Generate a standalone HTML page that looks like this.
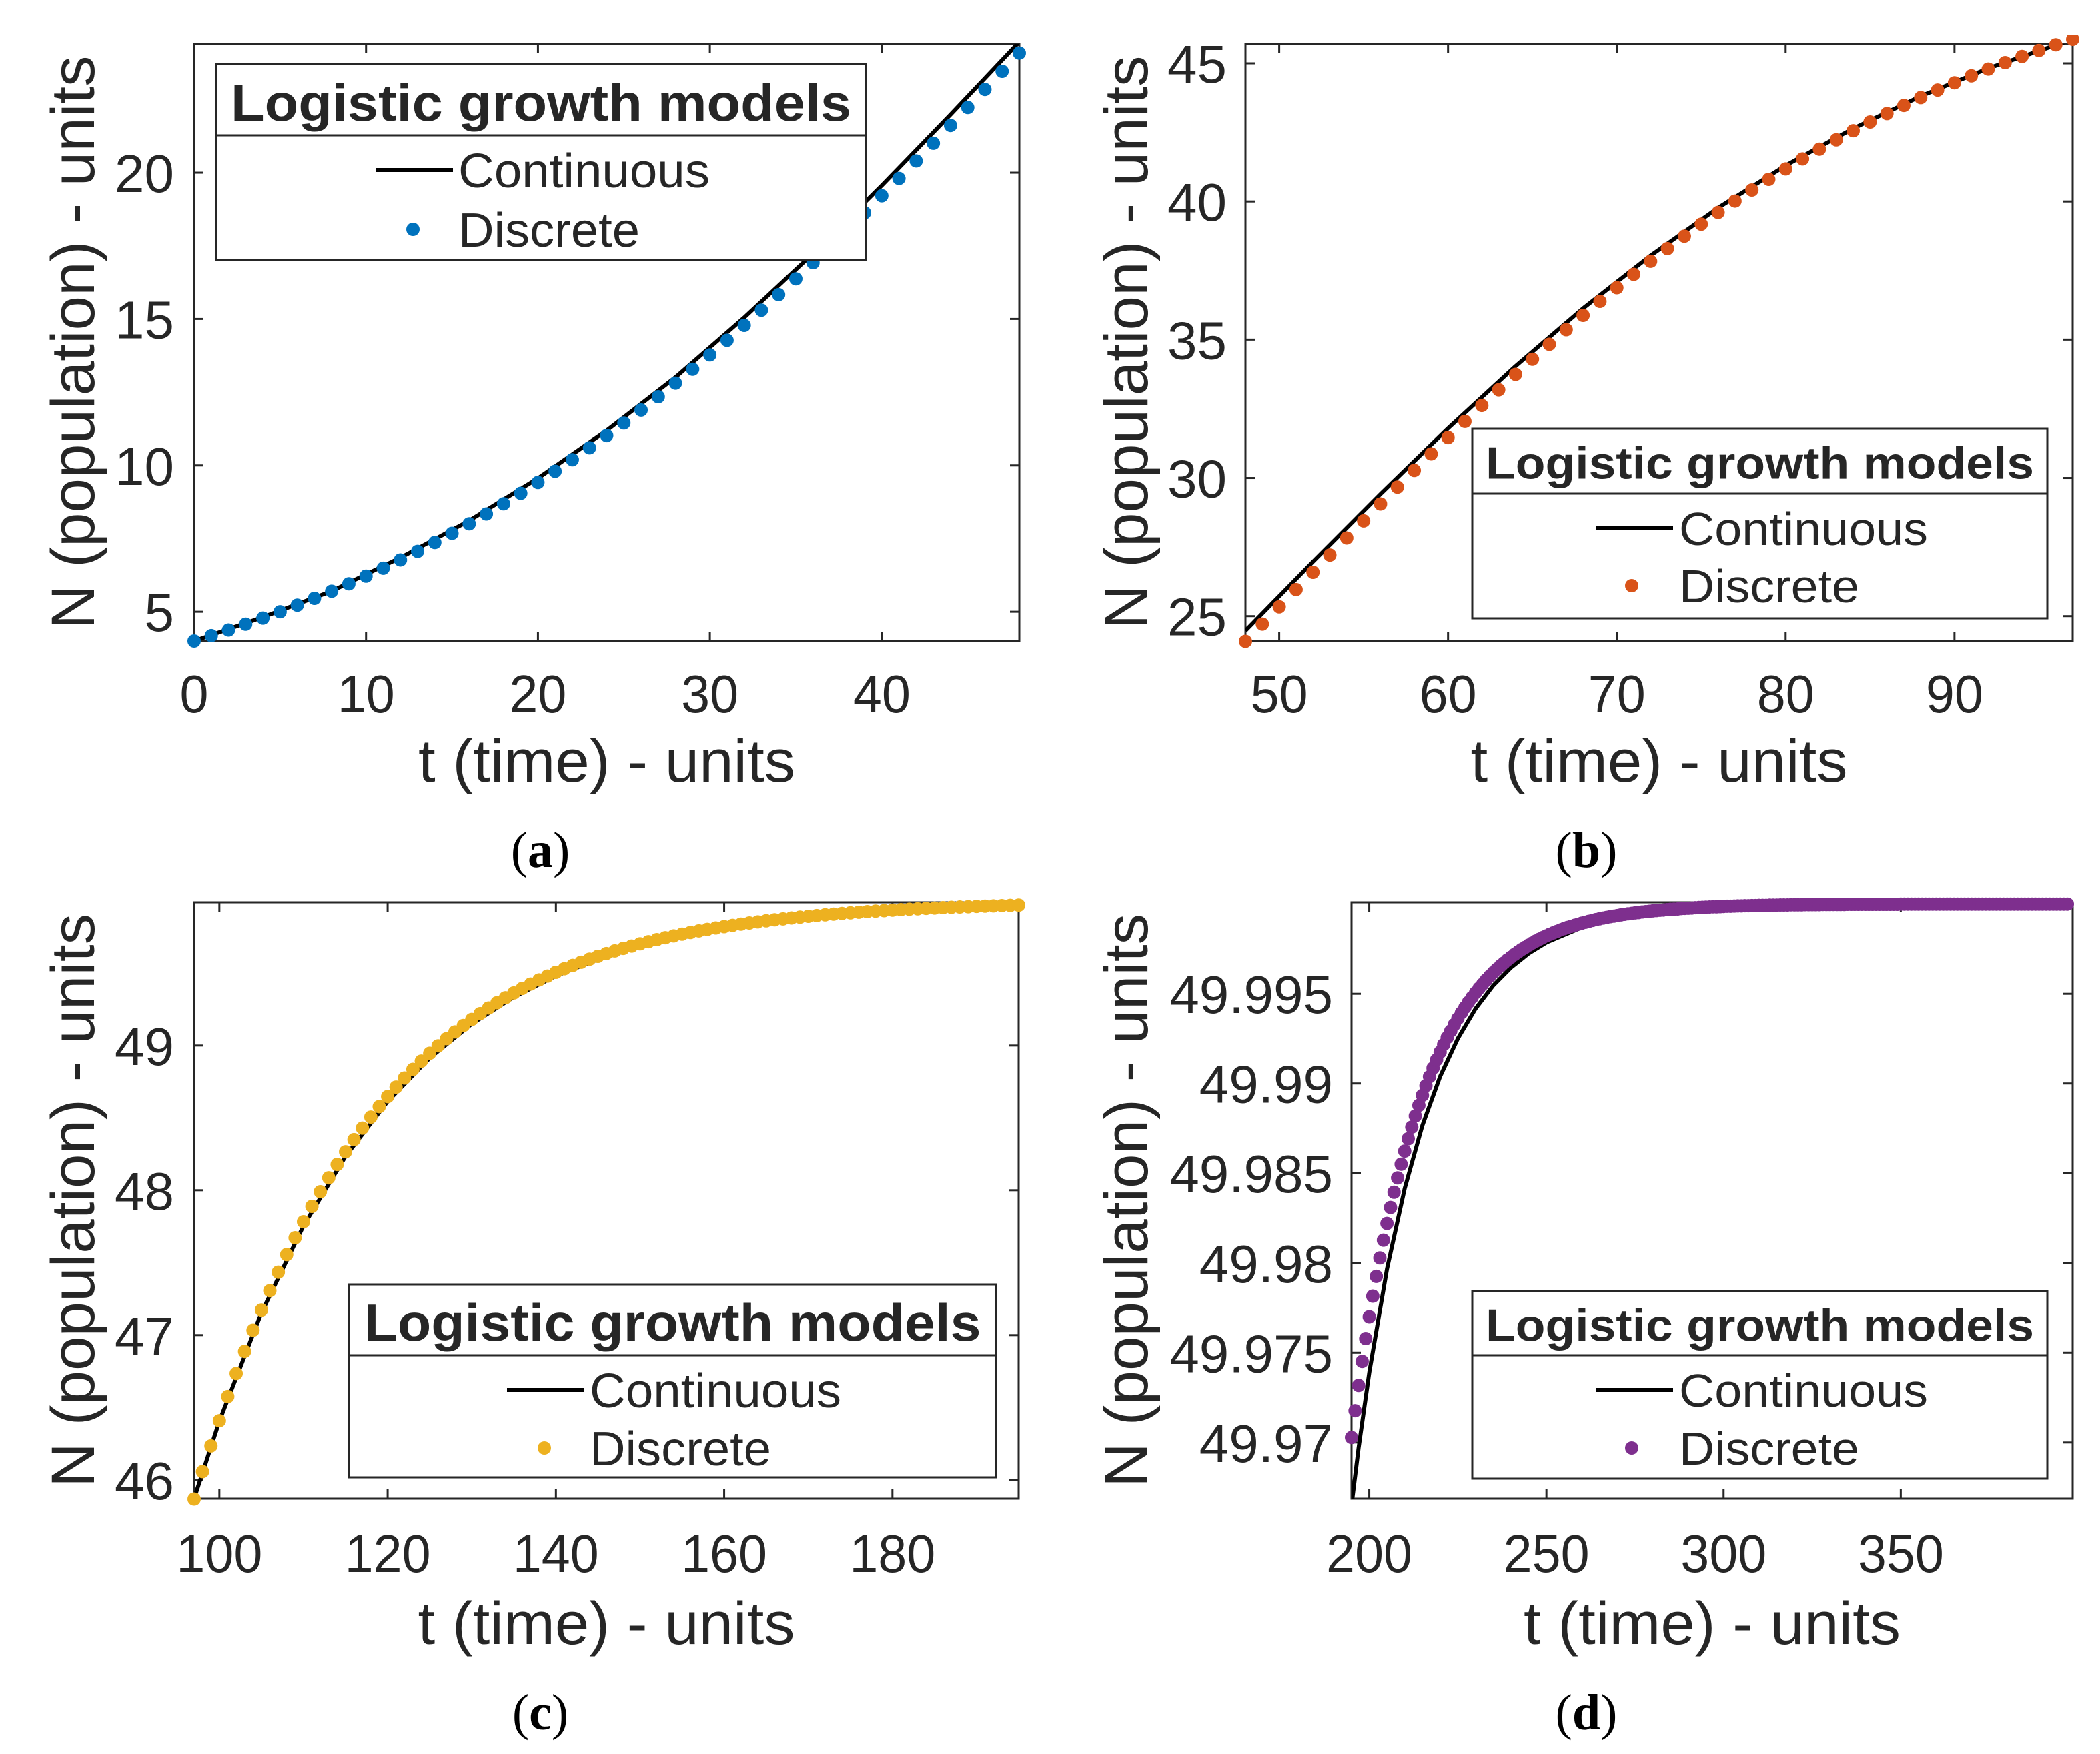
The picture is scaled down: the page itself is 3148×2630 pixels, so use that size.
<!DOCTYPE html>
<html><head><meta charset="utf-8"><style>
html,body{margin:0;padding:0;background:#fff;}
svg{display:block;}
text{font-family:"Liberation Sans",sans-serif;fill:#262626;}
</style></head><body>
<svg id="fig" width="3148" height="2630" viewBox="0 0 3148 2630" xmlns="http://www.w3.org/2000/svg"></svg>
<script>
// ---------- data ----------
const tickA_x=[0,10,20,30,40];
const tickA_y=[5,10,15,20];
const discA=[4,4.184,4.3757,4.5753,4.7831,4.9994,5.2244,5.4583,5.7014,5.954,6.2161,6.4883,6.7706,7.0633,7.3666,7.6807,8.0057,8.3419,8.6894,9.0484,9.4189,9.8011,10.1951,10.6009,11.0186,11.4481,11.8894,12.3425,12.8073,13.2836,13.7713,14.2702,14.7801,15.3006,15.8315,16.3724,16.923,17.4828,18.0513,18.628,19.2124,19.8039,20.4019,21.0058,21.6148,22.2283,22.8456,23.466,24.0887];
const contA_t=[0,4,8,12,16,20,24,28,32,36,40,44,48];
const contA_N=[4,4.816,5.706,6.846,8.112,9.559,11.191,13.008,15.051,17.236,19.561,21.986,24.474];

const tickB_x=[50,60,70,80,90];
const tickB_y=[25,30,35,40,45];
const discB=[24.0887,24.7129,25.3378,25.9627,26.5868,27.2093,27.8294,28.4464,29.0595,29.668,30.2712,30.8684,31.459,32.0423,32.6177,33.1847,33.7427,34.2913,34.83,35.3584,35.8761,36.3828,36.8782,37.3621,37.8343,38.2946,38.7429,39.179,39.603,40.0148,40.4144,40.8018,41.1771,41.5404,41.8918,42.2315,42.5596,42.8763,43.1817,43.4761,43.7597,44.0328,44.2956,44.5483,44.7912,45.0245,45.2485,45.4635,45.6697,45.8675];
const contB_t=[48,52,56,60,64,68,72,76,80,84,88,92,97];
const contB_N=[24.474,26.967,29.415,31.795,34.04,36.13,38.04,39.77,41.3,42.64,43.81,44.82,45.87];

const tickC_x=[100,120,140,160,180];
const tickC_y=[46,47,48,49];
const discC=[45.8675,46.057,46.2347,46.4088,46.5755,46.735,46.8876,47.0335,47.173,47.3064,47.4338,47.5555,47.6718,47.7828,47.8887,47.9898,48.0863,48.1783,48.2661,48.3498,48.4296,48.5057,48.5782,48.6473,48.7131,48.7758,48.8355,48.8924,48.9466,48.9982,49.0473,49.094,49.1385,49.1808,49.2211,49.2595,49.2959,49.3306,49.3637,49.3951,49.425,49.4534,49.4804,49.5061,49.5306,49.5538,49.5759,49.597,49.6169,49.636,49.654,49.6712,49.6875,49.7031,49.7178,49.7319,49.7452,49.7579,49.7699,49.7814,49.7922,49.8026,49.8124,49.8217,49.8306,49.8391,49.8471,49.8547,49.8619,49.8688,49.8754,49.8816,49.8875,49.8931,49.8984,49.9035,49.9083,49.9129,49.9172,49.9213,49.9253,49.929,49.9325,49.9359,49.9391,49.9422,49.945,49.9478,49.9504,49.9529,49.9552,49.9575,49.9596,49.9616,49.9635,49.9653,49.9671,49.9687,49.9703];
const contC_t=[97,100,105,110,115,120,125,130,135,140,145,150,160,170,180,195];
const contC_N=[45.87,46.405,47.154,47.755,48.235,48.614,48.914,49.15,49.335,49.481,49.595,49.684,49.808,49.883,49.929,49.9665];

const tickD_x=[200,250,300,350];
const tickD_y=[49.97,49.975,49.98,49.985,49.99,49.995];
const tickD_lbl=["49.97","49.975","49.98","49.985","49.99","49.995"];
const discD=[49.97028,49.97177,49.97318,49.97452,49.97579,49.977,49.97815,49.97925,49.98028,49.98127,49.9822,49.98309,49.98394,49.98474,49.9855,49.98623,49.98692,49.98757,49.98819,49.98878,49.98934,49.98988,49.99038,49.99086,49.99132,49.99175,49.99217,49.99256,49.99293,49.99328,49.99362,49.99394,49.99424,49.99453,49.9948,49.99506,49.99531,49.99554,49.99577,49.99598,49.99618,49.99637,49.99655,49.99672,49.99689,49.99704,49.99719,49.99733,49.99747,49.99759,49.99771,49.99783,49.99794,49.99804,49.99814,49.99823,49.99832,49.9984,49.99848,49.99856,49.99863,49.9987,49.99876,49.99882,49.99888,49.99894,49.99899,49.99904,49.99909,49.99914,49.99918,49.99922,49.99926,49.9993,49.99933,49.99936,49.9994,49.99943,49.99946,49.99948,49.99951,49.99953,49.99956,49.99958,49.9996,49.99962,49.99964,49.99966,49.99967,49.99969,49.99971,49.99972,49.99973,49.99975,49.99976,49.99977,49.99978,49.9998,49.99981,49.99982,49.99983,49.99984,49.99985,49.99985,49.99986,49.99987,49.99988,49.99988,49.99989,49.9999,49.9999,49.99991,49.99991,49.99992,49.99992,49.99993,49.99993,49.99993,49.99994,49.99994,49.99994,49.99995,49.99995,49.99995,49.99996,49.99996,49.99996,49.99996,49.99997,49.99997,49.99997,49.99997,49.99997,49.99998,49.99998,49.99998,49.99998,49.99998,49.99998,49.99998,49.99999,49.99999,49.99999,49.99999,49.99999,49.99999,49.99999,49.99999,49.99999,49.99999,49.99999,49.99999,49.99999,49.99999,49.99999,50,50,50,50,50,50,50,50,50,50,50,50,50,50,50,50,50,50,50,50,50,50,50,50,50,50,50,50,50,50,50,50,50,50,50,50,50,50,50,50,50,50,50,50,50,50,50,50];
const contD_t=[195,197,200,205,210,215,220,225,230,235,240,245,250,260,270,280,300,320,350,398];
const contD_N=[49.9665,49.9697,49.9739,49.97965,49.98415,49.98766,49.99039,49.99251,49.99417,49.99547,49.99646,49.99725,49.99786,49.9987,49.99921,49.99952,49.99982,49.99994,49.999985,49.999999];

// ---------- drawing ----------
const NS="http://www.w3.org/2000/svg";
const svg=document.getElementById('fig');
function mk(tag,attrs,parent){const e=document.createElementNS(NS,tag);for(const k in attrs)e.setAttribute(k,attrs[k]);(parent||svg).appendChild(e);return e;}

const panels=[
 {id:'a',L:291,R:1528,T:66,B:961,xmin:0,xmax:48,ymin:4,ymax:24.4,xt:tickA_x,yt:tickA_y,yl:null,disc:discA,t0:0,ct:contA_t,cN:contA_N,color:'#0072BD',
  lg:{x1:324,x2:1298,y1:96,y2:390,sep:203,title:153,titleLen:930,titleFs:78,lineY:255,dotY:344,l1:563,l2:679,tx:687,dx:619,entLen:[377,272],fs:72},
  ytr:261,ylx:141,cap:'(a)',capx:810,capy:1300,xtb:1068,xlb:1172},
 {id:'b',L:1867,R:3107,T:66,B:961,xmin:48,xmax:97,ymin:24.1,ymax:45.7,xt:tickB_x,yt:tickB_y,yl:null,disc:discB,t0:48,ct:contB_t,cN:contB_N,color:'#D95319',
  lg:{x1:2207,x2:3069,y1:643,y2:927,sep:740,title:693,titleLen:822,titleFs:68,lineY:792,dotY:878,l1:2392,l2:2508,tx:2517,dx:2446,entLen:[373,270],fs:70},
  ytr:1839,ylx:1720,cap:'(b)',capx:2378,capy:1300,xtb:1068,xlb:1172},
 {id:'c',L:291,R:1527,T:1353,B:2247,xmin:97,xmax:195,ymin:45.87,ymax:49.99,xt:tickC_x,yt:tickC_y,yl:null,disc:discC,t0:97,ct:contC_t,cN:contC_N,color:'#EDB120',
  lg:{x1:523,x2:1493,y1:1926,y2:2215,sep:2032,title:1982,titleLen:925,titleFs:78,lineY:2084,dotY:2171,l1:760,l2:876,tx:884,dx:816,entLen:[377,272],fs:72},
  ytr:261,ylx:141,cap:'(c)',capx:810,capy:2593,xtb:2357,xlb:2465},
 {id:'d',L:2026,R:3107,T:1353,B:2247,xmin:195,xmax:398.5,ymin:49.96687,ymax:50.0001,xt:tickD_x,yt:tickD_y,yl:tickD_lbl,disc:discD,t0:195,ct:contD_t,cN:contD_N,color:'#7E2F8E',
  lg:{x1:2207,x2:3069,y1:1936,y2:2217,sep:2032,title:1986,titleLen:822,titleFs:68,lineY:2084,dotY:2171,l1:2392,l2:2508,tx:2517,dx:2446,entLen:[373,270],fs:70},
  ytr:1998,ylx:1720,cap:'(d)',capx:2378,capy:2593,xtb:2357,xlb:2465}
];

panels.forEach(p=>{
  const g=mk('g',{});
  
  
  const sx=v=>p.L+(v-p.xmin)/(p.xmax-p.xmin)*(p.R-p.L);
  const sy=v=>p.B-(v-p.ymin)/(p.ymax-p.ymin)*(p.B-p.T);
  const cp=mk('clipPath',{id:'clip'+p.id},g);
  mk('rect',{x:p.L-14,y:p.T-14,width:p.R-p.L+28,height:p.B-p.T+28},cp);
  const cp2=mk('clipPath',{id:'clipl'+p.id},g);
  mk('rect',{x:p.L,y:p.T,width:p.R-p.L,height:p.B-p.T},cp2);
  const box=mk('rect',{x:p.L,y:p.T,width:p.R-p.L,height:p.B-p.T,fill:'none',stroke:'#262626','stroke-width':3},g);
  
  
  p.xt.forEach(v=>{
    const x=sx(v);
    mk('line',{x1:x,x2:x,y1:p.B,y2:p.B-14,stroke:'#262626','stroke-width':3},g);
    mk('line',{x1:x,x2:x,y1:p.T,y2:p.T+14,stroke:'#262626','stroke-width':3},g);
    const t=mk('text',{x:x,y:p.xtb,'text-anchor':'middle','font-size':80,textLength:String(v).length*43,lengthAdjust:'spacingAndGlyphs'},g);
    t.textContent=String(v);
    
    
  });
  p.yt.forEach((v,i)=>{
    const y=sy(v);
    mk('line',{x1:p.L,x2:p.L+14,y1:y,y2:y,stroke:'#262626','stroke-width':3},g);
    mk('line',{x1:p.R,x2:p.R-14,y1:y,y2:y,stroke:'#262626','stroke-width':3},g);
    const s=p.yl?p.yl[i]:String(v);
    const t=mk('text',{x:p.ytr,y:y+29,'text-anchor':'end','font-size':80},g);
    t.textContent=s;
    
    
  });
  const pts=p.ct.map((t,i)=>sx(t).toFixed(1)+','+sy(p.cN[i]).toFixed(1)).join(' ');
  const pl=mk('polyline',{points:pts,fill:'none',stroke:'#000','stroke-width':6,'stroke-linejoin':'round','clip-path':'url(#clipl'+p.id+')'},g);
  
  
  const dg=mk('g',{'clip-path':'url(#clip'+p.id+')'},g);
  
  
  p.disc.forEach((v,i)=>{
    const c=mk('circle',{cx:sx(p.t0+i),cy:sy(v),r:10,fill:p.color},dg);
    
    
  });
  const xl=mk('text',{x:(p.L+p.R)/2,y:p.xlb,'text-anchor':'middle','font-size':90,textLength:565,lengthAdjust:'spacingAndGlyphs'},g);
  xl.textContent='t (time) - units';
  
  
  const cy=(p.T+p.B)/2;
  const yl=mk('text',{x:p.ylx,y:cy,'text-anchor':'middle','font-size':92,textLength:860,lengthAdjust:'spacingAndGlyphs',transform:'rotate(-90 '+p.ylx+' '+cy+')'},g);
  yl.textContent='N (population) - units';
  
  
  const L=p.lg;
  const lg=mk('g',{},g);
  
  
  mk('rect',{x:L.x1,y:L.y1,width:L.x2-L.x1,height:L.y2-L.y1,fill:'#fff',stroke:'#262626','stroke-width':3},lg);
  mk('line',{x1:L.x1,x2:L.x2,y1:L.sep,y2:L.sep,stroke:'#262626','stroke-width':3},lg);
  const tt=mk('text',{x:(L.x1+L.x2)/2,y:L.title+L.titleFs*0.36,'text-anchor':'middle','font-size':L.titleFs,'font-weight':'bold',textLength:L.titleLen,lengthAdjust:'spacingAndGlyphs'},lg);
  tt.textContent='Logistic growth models';
  
  
  mk('line',{x1:L.l1,x2:L.l2,y1:L.lineY,y2:L.lineY,stroke:'#000','stroke-width':6},lg);
  const e1=mk('text',{x:L.tx,y:L.lineY+L.fs*0.36,'font-size':L.fs,textLength:L.entLen[0],lengthAdjust:'spacingAndGlyphs'},lg);
  e1.textContent='Continuous';
  
  
  mk('circle',{cx:L.dx,cy:L.dotY,r:10,fill:p.color},lg);
  const e2=mk('text',{x:L.tx,y:L.dotY+L.fs*0.36,'font-size':L.fs,textLength:L.entLen[1],lengthAdjust:'spacingAndGlyphs'},lg);
  e2.textContent='Discrete';
  
  
  const cap=mk('text',{x:p.capx,y:p.capy,'text-anchor':'middle','font-size':76,style:'font-family:"Liberation Serif",serif;fill:#000'},g);
  const b=p.cap;
  cap.innerHTML='(<tspan font-weight="bold">'+b[1]+'</tspan>)';
  
  
});
</script>
</body></html>
